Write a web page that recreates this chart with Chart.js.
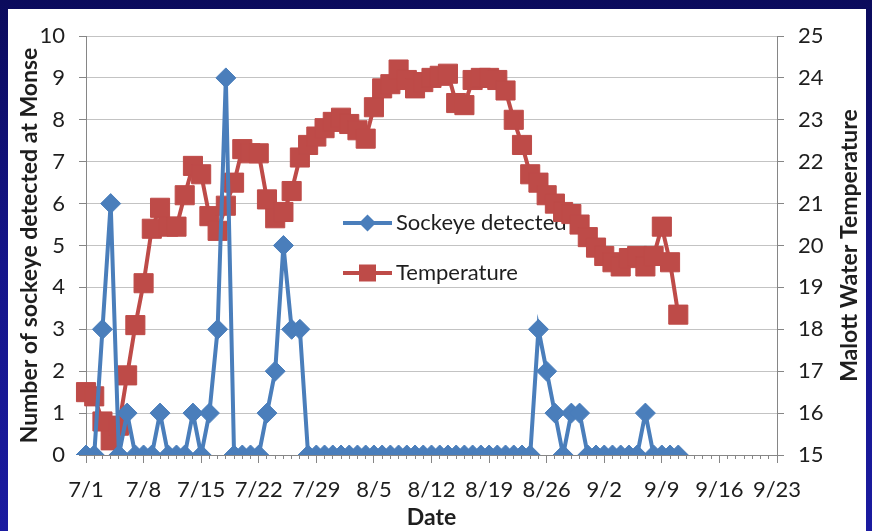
<!DOCTYPE html>
<html>
<head>
<meta charset="utf-8">
<script src="https://cdn.jsdelivr.net/npm/chart.js@4.4.1/dist/chart.umd.min.js"></script>
<style>
  html, body { margin: 0; padding: 0; width: 872px; height: 531px; overflow: hidden; }
  body { background: linear-gradient(to bottom, #0b0b5c 0%, #15158a 50%, #1b1ba0 100%); position: relative; }
  #panel { position: absolute; left: 8px; top: 9px; width: 858px; height: 522px; background: #ffffff; }
  #c { position: absolute; left: 0; top: 0; }
</style>
</head>
<body>
<div id="panel"></div>
<canvas id="c" width="872" height="531"></canvas>
<script>
// ---- data ----
const startMonth = 7, startDay = 1, totalDays = 85; // 7/1 .. 9/23
const tickLabels = ['7/1', '7/8', '7/15', '7/22', '7/29', '8/5', '8/12', '8/19', '8/26', '9/2', '9/9', '9/16', '9/23'];

const sockeye = [
  0, 0, 3, 6, 0, 1, 0, 0, 0, 1,
  0, 0, 0, 1, 0, 1, 3, 9, 0, 0,
  0, 0, 1, 2, 5, 3, 3, 0, 0, 0,
  0, 0, 0, 0, 0, 0, 0, 0, 0, 0,
  0, 0, 0, 0, 0, 0, 0, 0, 0, 0,
  0, 0, 0, 0, 0, 3, 2, 1, 0, 1,
  1, 0, 0, 0, 0, 0, 0, 0, 1, 0,
  0, 0, 0
];

const temperature = [
  16.5, 16.4, 15.8, 15.35, 15.7, 16.9, 18.1, 19.1, 20.4, 20.9,
  20.45, 20.45, 21.2, 21.9, 21.7, 20.7, 20.35, 20.95, 21.5, 22.3,
  22.2, 22.2, 21.1, 20.65, 20.8, 21.3, 22.1, 22.4, 22.6, 22.8,
  22.95, 23.05, 22.9, 22.75, 22.55, 23.3, 23.75, 23.85, 24.2, 23.95,
  23.75, 23.9, 24.0, 24.05, 24.1, 23.4, 23.35, 23.95, 24.0, 24.0,
  23.95, 23.7, 23.0, 22.4, 21.7, 21.5, 21.2, 21.0, 20.8, 20.75,
  20.5, 20.2, 19.95, 19.75, 19.6, 19.5, 19.7, 19.75, 19.5, 19.75,
  20.45, 19.6, 18.35
];

const titles = {
  x: 'Date',
  y: 'Number of sockeye detected at Monse',
  y1: 'Malott Water Temperature'
};

// calendar day labels for the category axis
const daysInMonth = { 7: 31, 8: 31, 9: 30 };
const dayLabels = [];
(function () {
  let m = startMonth, d = startDay;
  for (let i = 0; i < totalDays; i++) {
    dayLabels.push(m + '/' + d);
    d++;
    if (d > daysInMonth[m]) { d = 1; m++; }
  }
})();

// ---- styling ----
const BLUE = '#4a7ebb';
const RED = '#be4b48';
const AXIS = '#868686';
const GRID = '#c3c3c3';
const TEXT = '#1e1e1e';
const FONT = 'Lato';
const TITLE_SIZE = 23;

function legendIcon(color, style) {
  const cv = document.createElement('canvas');
  cv.width = 49; cv.height = 22;
  const g = cv.getContext('2d');
  g.strokeStyle = color; g.lineWidth = 4;
  g.beginPath(); g.moveTo(0, 11); g.lineTo(49, 11); g.stroke();
  g.fillStyle = color;
  g.beginPath();
  if (style === 'diamond') {
    g.moveTo(24.5, 2.5); g.lineTo(33, 11); g.lineTo(24.5, 19.5); g.lineTo(16, 11);
  } else {
    g.rect(16, 2.5, 17, 17);
  }
  g.closePath(); g.fill();
  return cv;
}
const icons = [legendIcon(BLUE, 'diamond'), legendIcon(RED, 'square')];

const legendPlacer = {
  id: 'legendPlacer',
  afterLayout(chart) {
    const lg = chart.legend;
    if (!lg) return;
    const ca = chart.chartArea;
    const left = ca.left + 236;
    const top = ca.top + 148;
    lg.left = left; lg.top = top;
    lg.right = left + 420; lg.bottom = top + 160;
    lg.width = 420; lg.height = 160;
  }
};

// right-hand axis title, reading bottom-to-top like the reference
const rightTitle = {
  id: 'rightTitle',
  afterDraw(chart) {
    const s = chart.scales.y1;
    const ca = chart.chartArea;
    const ctx = chart.ctx;
    ctx.save();
    ctx.translate(s.right - 22, (ca.top + ca.bottom) / 2);
    ctx.rotate(-Math.PI / 2);
    ctx.font = 'bold ' + TITLE_SIZE + 'px ' + FONT;
    ctx.fillStyle = TEXT;
    ctx.textAlign = 'center';
    ctx.textBaseline = 'middle';
    ctx.fillText(titles.y1, 0, 0);
    ctx.restore();
  }
};

Chart.defaults.font.family = FONT;

new Chart(document.getElementById('c'), {
  type: 'line',
  data: {
    labels: dayLabels,
    datasets: [
      {
        label: 'Sockeye detected',
        data: sockeye,
        yAxisID: 'y',
        borderColor: BLUE,
        backgroundColor: BLUE,
        borderWidth: 4,
        tension: 0,
        pointStyle: 'rectRot',
        pointRadius: 10,
        pointBorderWidth: 1,
        pointBackgroundColor: BLUE,
        pointBorderColor: BLUE
      },
      {
        label: 'Temperature',
        data: temperature,
        yAxisID: 'y1',
        borderColor: RED,
        backgroundColor: RED,
        borderWidth: 4,
        tension: 0,
        pointStyle: 'rect',
        pointRadius: 13.5,
        pointBorderWidth: 1,
        pointBackgroundColor: RED,
        pointBorderColor: RED
      }
    ]
  },
  options: {
    responsive: false,
    animation: false,
    devicePixelRatio: 1,
    layout: { padding: { left: 8, right: 0, top: 36, bottom: 0 } },
    plugins: {
      tooltip: { enabled: false },
      legend: {
        display: true,
        position: 'chartArea',
        align: 'start',
        labels: {
          usePointStyle: true,
          pointStyleWidth: 35,
          padding: 28,
          color: TEXT,
          font: { family: FONT, size: 22 },
          generateLabels(chart) {
            const items = Chart.defaults.plugins.legend.labels.generateLabels(chart);
            items.forEach((it, i) => { it.pointStyle = icons[i]; });
            return items;
          }
        }
      }
    },
    scales: {
      x: {
        type: 'category',
        offset: false,
        grid: {
          drawOnChartArea: false,
          drawTicks: true,
          tickLength: 8,
          tickColor: AXIS,
          tickWidth: 1,
          tickBorderDash: (ctx) => (ctx.index % 7 === 0 ? [] : [3, 40])
        },
        border: { color: AXIS, width: 1 },
        ticks: {
          autoSkip: false,
          maxRotation: 0,
          minRotation: 0,
          padding: 14,
          color: TEXT,
          font: { family: FONT, size: 22 },
          callback: (v, i) => (i % 7 === 0 ? tickLabels[i / 7] : '')
        },
        title: {
          display: true,
          text: titles.x,
          color: TEXT,
          font: { family: FONT, size: TITLE_SIZE, weight: 'bold' },
          padding: { top: 0, bottom: 0 }
        },
        afterFit: (s) => { s.height = 76; }
      },
      y: {
        position: 'left',
        min: 0,
        max: 10,
        ticks: {
          stepSize: 1,
          padding: 14,
          color: TEXT,
          font: { family: FONT, size: 22 }
        },
        grid: { color: GRID, tickColor: AXIS, tickLength: 7, lineWidth: 1 },
        border: { color: AXIS, width: 1 },
        title: {
          display: true,
          text: titles.y,
          color: TEXT,
          font: { family: FONT, size: TITLE_SIZE, weight: 'bold' },
          padding: { top: 8, bottom: 0 }
        },
        afterFit: (s) => { s.width = 78; }
      },
      y1: {
        position: 'right',
        min: 15,
        max: 25,
        ticks: {
          stepSize: 1,
          padding: 14,
          color: TEXT,
          font: { family: FONT, size: 22 }
        },
        grid: { drawOnChartArea: false, tickColor: AXIS, tickLength: 7 },
        border: { color: AXIS, width: 1 },
        title: { display: false },
        afterFit: (s) => { s.width = 95; }
      }
    }
  },
  plugins: [legendPlacer, rightTitle]
});
</script>
</body>
</html>
